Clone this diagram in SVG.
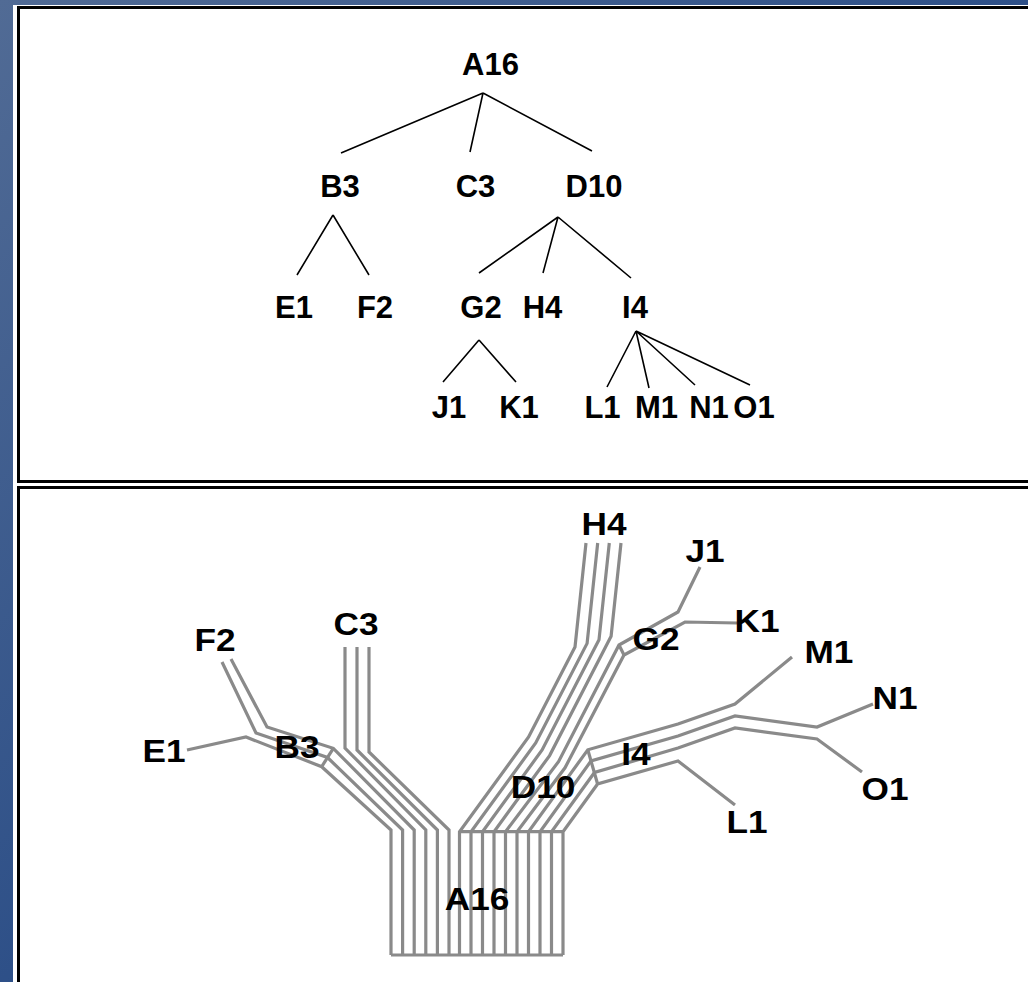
<svg xmlns="http://www.w3.org/2000/svg" width="1028" height="982" viewBox="0 0 1028 982">
<defs>
<linearGradient id="bg" x1="0" y1="0" x2="1" y2="1">
<stop offset="0" stop-color="#516b95"/>
<stop offset="0.5" stop-color="#2e5088"/>
<stop offset="1" stop-color="#17397f"/>
</linearGradient>
<style>
.lbl{font-family:"Liberation Sans",Arial,sans-serif;font-weight:bold;font-size:32px;fill:#000;text-anchor:middle}
.top .lbl{font-size:31px}
.tl{stroke:#000;stroke-width:1.6;fill:none}
.bl{stroke:#8a8a8a;stroke-width:3.2;fill:none;stroke-linejoin:miter;stroke-linecap:butt}
.panel{fill:#fff;stroke:#000;stroke-width:3}
</style>
</defs>
<rect x="0" y="0" width="1028" height="982" fill="url(#bg)"/>
<rect x="13" y="5" width="1015" height="977" fill="#fff"/>
<rect class="panel" x="18.5" y="7.5" width="1020" height="474"/>
<rect class="panel" x="18.5" y="487.5" width="1020" height="500"/>

<g id="top-tree" class="top">
<g id="top-connectors">
<path class="tl" d="M483,93 L341,153 M483,93 L470,152 M483,93 L592,151"/>
<path class="tl" d="M333,215 L297,275 M333,215 L369,275"/>
<path class="tl" d="M558,217 L479,273 M558,217 L543,273 M558,217 L631,278"/>
<path class="tl" d="M479,340 L443,382 M479,340 L516,382"/>
<path class="tl" d="M636,331 L607,387 M636,331 L649,388 M636,331 L695,385 M636,331 L750,385"/>
</g>
<g id="t-A16"><text class="lbl" x="490.5" y="75">A16</text></g>
<g id="t-B3"><text class="lbl" x="340" y="197">B3</text></g>
<g id="t-C3"><text class="lbl" x="475.5" y="197">C3</text></g>
<g id="t-D10"><text class="lbl" x="594" y="197">D10</text></g>
<g id="t-E1"><text class="lbl" x="294" y="318">E1</text></g>
<g id="t-F2"><text class="lbl" x="375" y="318">F2</text></g>
<g id="t-G2"><text class="lbl" x="481" y="318">G2</text></g>
<g id="t-H4"><text class="lbl" x="542.5" y="318">H4</text></g>
<g id="t-I4"><text class="lbl" x="635" y="318">I4</text></g>
<g id="t-J1"><text class="lbl" x="449" y="418">J1</text></g>
<g id="t-K1"><text class="lbl" x="519" y="418">K1</text></g>
<g id="t-L1"><text class="lbl" x="602.5" y="418">L1</text></g>
<g id="t-M1"><text class="lbl" x="656.5" y="418">M1</text></g>
<g id="t-N1"><text class="lbl" x="709" y="418">N1</text></g>
<g id="t-O1"><text class="lbl" x="754" y="418">O1</text></g>
</g>

<g id="bottom-connectors">
<polyline class="bl" points="187,750 246,737 321.7,766.7 391,830 391,955"/>
<polyline class="bl" points="222,662 256,733 327.5,757.5 402.6,830 402.6,955"/>
<polyline class="bl" points="231,659 267,727 333.3,748.3 414.2,830 414.2,955"/>
<polyline class="bl" points="321.7,766.7 333.3,748.3"/>
<polyline class="bl" points="345,647 345,748 425.8,830 425.8,955"/>
<polyline class="bl" points="357,647 357,750 437.4,830 437.4,955"/>
<polyline class="bl" points="369,647 369,752 449,830 449,955"/>
<polyline class="bl" points="586,543 575,647 528.6,737 459.5,831.7 459.5,955"/>
<polyline class="bl" points="597.7,543 587.1,643.4 535.7,743 471,831.7 471,955"/>
<polyline class="bl" points="609.3,543 599,639.8 542.1,750 482.5,831.7 482.5,955"/>
<polyline class="bl" points="621,543 611.1,636.2 549.6,755.6 494,831.7 494,955"/>
<polyline class="bl" points="700,567 678,612 619,645 558.5,761.7 505.5,831.7 505.5,955"/>
<polyline class="bl" points="737,623 685,622 624,655 565,767.8 517,831.7 517,955"/>
<polyline class="bl" points="619,645 624,655"/>
<polyline class="bl" points="792,657 735,704 678,724 587.8,749.8 528.5,831.7 528.5,955"/>
<polyline class="bl" points="873,704 817,727 735,716 678,736 591,761 540,831.7 540,955"/>
<polyline class="bl" points="862,772 817,739 735,728 678,748 594.5,772.5 551.5,831.7 551.5,955"/>
<polyline class="bl" points="735,805 678,761 597.6,784 563,831.7 563,955"/>
<polyline class="bl" points="587.8,749.8 597.6,784"/>
<polyline class="bl" points="459.5,831.7 563,831.7"/>
<polyline class="bl" points="391,955 563,955"/>
</g>

<g id="bottom-labels">
<g id="b-H4"><text class="lbl" transform="translate(604 535) scale(1.1 1)">H4</text></g>
<g id="b-J1"><text class="lbl" transform="translate(705 562) scale(1.1 1)">J1</text></g>
<g id="b-K1"><text class="lbl" transform="translate(757 632) scale(1.1 1)">K1</text></g>
<g id="b-G2"><text class="lbl" transform="translate(656 650) scale(1.1 1)">G2</text></g>
<g id="b-M1"><text class="lbl" transform="translate(829 663) scale(1.1 1)">M1</text></g>
<g id="b-N1"><text class="lbl" transform="translate(895 709) scale(1.1 1)">N1</text></g>
<g id="b-I4"><text class="lbl" transform="translate(636 765) scale(1.1 1)">I4</text></g>
<g id="b-O1"><text class="lbl" transform="translate(885 800) scale(1.1 1)">O1</text></g>
<g id="b-L1"><text class="lbl" transform="translate(747 833) scale(1.1 1)">L1</text></g>
<g id="b-D10"><text class="lbl" transform="translate(543 798) scale(1.1 1)">D10</text></g>
<g id="b-A16"><text class="lbl" transform="translate(477 910) scale(1.1 1)">A16</text></g>
<g id="b-F2"><text class="lbl" transform="translate(215 651) scale(1.1 1)">F2</text></g>
<g id="b-C3"><text class="lbl" transform="translate(356 635) scale(1.1 1)">C3</text></g>
<g id="b-B3"><text class="lbl" transform="translate(297 758) scale(1.1 1)">B3</text></g>
<g id="b-E1"><text class="lbl" transform="translate(164 762) scale(1.1 1)">E1</text></g>
</g>
</svg>
